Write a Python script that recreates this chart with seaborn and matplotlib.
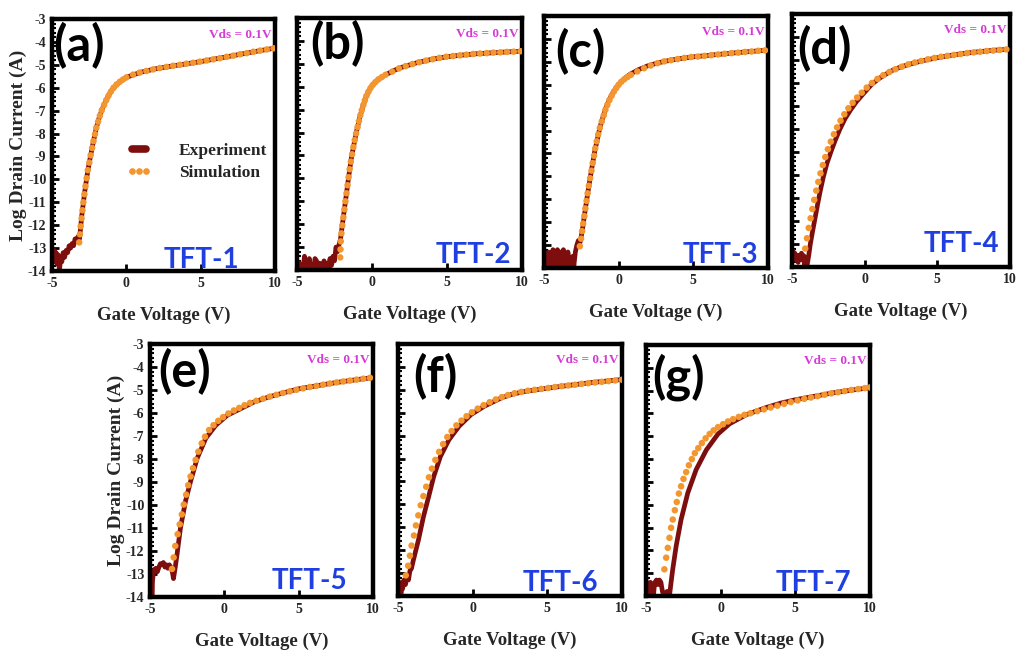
import matplotlib
matplotlib.use("Agg")
import matplotlib.pyplot as plt
import seaborn as sns
from matplotlib.lines import Line2D
from matplotlib.ticker import MultipleLocator

# ---------------- data ----------------
panel_tags = ["(a)", "(b)", "(c)", "(d)", "(e)", "(f)", "(g)"]
device_names = ["TFT-1", "TFT-2", "TFT-3", "TFT-4", "TFT-5", "TFT-6", "TFT-7"]
y_ticks = [-14, -13, -12, -11, -10, -9, -8, -7, -6, -5, -4, -3]
x_ticks = [-5, 0, 5, 10]

exp_a = [(-5.0, -13.0), (-4.93, -13.5), (-4.86, -13.1), (-4.79, -13.6), (-4.72, -13.2), (-4.65, -13.7),
         (-4.58, -13.3), (-4.5, -14.0), (-4.42, -13.4), (-4.34, -13.6), (-4.25, -13.2), (-4.15, -13.4),
         (-4.05, -13.1), (-3.95, -13.2), (-3.85, -12.9), (-3.75, -13.0), (-3.65, -12.8), (-3.55, -12.9),
         (-3.45, -12.6), (-3.35, -12.7), (-3.25, -12.5), (-3.15, -12.6), (-3.0, -11.6), (-2.8, -10.55),
         (-2.6, -9.65), (-2.4, -8.95), (-2.2, -8.3), (-2.0, -7.7), (-1.8, -7.25), (-1.6, -6.9), (-1.4, -6.6),
         (-1.2, -6.35), (-1.0, -6.12), (-0.7, -5.9), (-0.4, -5.72), (0.0, -5.55), (0.5, -5.43), (1.0, -5.32),
         (2.0, -5.17), (3.0, -5.06), (4.0, -4.96), (5.0, -4.86), (6.0, -4.74), (7.0, -4.62), (8.0, -4.5),
         (9.0, -4.38), (10.0, -4.27)]
sim_a = [(-3.17, -12.75), (-3.12, -12.4), (-3.07, -12.05), (-3.01, -11.7), (-2.95, -11.35), (-2.89, -11.0),
         (-2.82, -10.65), (-2.75, -10.3), (-2.67, -9.95), (-2.59, -9.6), (-2.49, -9.27), (-2.4, -8.95),
         (-2.3, -8.63), (-2.21, -8.33), (-2.11, -8.03), (-2.02, -7.75), (-1.9, -7.48), (-1.78, -7.22),
         (-1.65, -6.98), (-1.5, -6.75), (-1.35, -6.54), (-1.2, -6.35), (-1.04, -6.17), (-0.86, -6.0),
         (-0.66, -5.86), (-0.44, -5.74), (-0.22, -5.64), (0.0, -5.55), (0.45, -5.43), (0.9, -5.34),
         (1.35, -5.27), (1.8, -5.2), (2.25, -5.14), (2.7, -5.09), (3.15, -5.04), (3.6, -5.0), (4.05, -4.95),
         (4.5, -4.91), (4.95, -4.86), (5.4, -4.81), (5.85, -4.76), (6.3, -4.71), (6.75, -4.65), (7.2, -4.6),
         (7.65, -4.54), (8.1, -4.49), (8.55, -4.43), (9.0, -4.38), (9.45, -4.33), (9.9, -4.28)]

exp_b = [(-5.0, -13.6), (-4.92, -14.0), (-4.84, -13.7), (-4.76, -14.0), (-4.68, -13.9), (-4.6, -14.0),
         (-4.5, -13.4), (-4.42, -14.0), (-4.34, -13.9), (-4.26, -14.0), (-4.18, -13.5), (-4.1, -14.0),
         (-4.0, -13.9), (-3.9, -14.0), (-3.8, -13.5), (-3.7, -13.6), (-3.6, -14.0), (-3.5, -13.7),
         (-3.4, -13.9), (-3.3, -14.0), (-3.2, -13.6), (-3.1, -14.0), (-3.0, -13.7), (-2.9, -14.0),
         (-2.8, -13.5), (-2.7, -13.8), (-2.6, -13.4), (-2.5, -13.6), (-2.4, -13.0), (-2.3, -13.2),
         (-2.2, -12.9), (-2.1, -12.65), (-1.95, -11.9), (-1.8, -11.15), (-1.6, -10.15), (-1.4, -9.2),
         (-1.2, -8.5), (-1.0, -7.85), (-0.8, -7.3), (-0.6, -6.85), (-0.4, -6.45), (-0.2, -6.17), (0.0, -5.95),
         (0.3, -5.75), (0.6, -5.6), (1.0, -5.45), (1.5, -5.28), (2.0, -5.15), (3.0, -4.95), (4.0, -4.8),
         (5.0, -4.69), (6.0, -4.62), (7.0, -4.56), (8.0, -4.52), (9.0, -4.48), (10.0, -4.45)]
sim_b = [(-2.12, -13.45), (-2.1, -13.1), (-2.08, -12.75), (-2.04, -12.4), (-1.98, -12.05), (-1.91, -11.7),
         (-1.84, -11.35), (-1.77, -11.0), (-1.7, -10.65), (-1.63, -10.3), (-1.56, -9.95), (-1.49, -9.6),
         (-1.41, -9.27), (-1.33, -8.95), (-1.24, -8.63), (-1.15, -8.33), (-1.06, -8.04), (-0.96, -7.76),
         (-0.87, -7.5), (-0.78, -7.25), (-0.68, -7.02), (-0.58, -6.8), (-0.48, -6.6), (-0.37, -6.4),
         (-0.24, -6.22), (-0.1, -6.06), (0.05, -5.92), (0.22, -5.8), (0.42, -5.68), (0.65, -5.58),
         (0.9, -5.48), (1.35, -5.34), (1.8, -5.2), (2.25, -5.1), (2.7, -5.01), (3.15, -4.93), (3.6, -4.86),
         (4.05, -4.8), (4.5, -4.74), (4.95, -4.69), (5.4, -4.66), (5.85, -4.63), (6.3, -4.6), (6.75, -4.57),
         (7.2, -4.55), (7.65, -4.53), (8.1, -4.51), (8.55, -4.5), (9.0, -4.48), (9.45, -4.47), (9.9, -4.45)]

exp_c = [(-5.0, -13.3), (-4.95, -14.0), (-4.9, -13.5), (-4.8, -13.9), (-4.7, -13.3), (-4.6, -14.0),
         (-4.5, -13.6), (-4.4, -13.2), (-4.3, -14.0), (-4.2, -13.4), (-4.1, -13.2), (-4.0, -13.9),
         (-3.9, -13.3), (-3.8, -14.0), (-3.7, -13.2), (-3.6, -13.6), (-3.5, -14.0), (-3.4, -13.3),
         (-3.3, -13.9), (-3.2, -14.0), (-3.1, -13.5), (-3.0, -13.9), (-2.9, -13.3), (-2.8, -13.0),
         (-2.7, -12.8), (-2.6, -12.9), (-2.55, -12.8), (-2.4, -12.2), (-2.27, -11.6), (-2.1, -10.85),
         (-1.93, -10.16), (-1.75, -9.45), (-1.59, -8.86), (-1.4, -8.3), (-1.25, -7.85), (-1.0, -7.3),
         (-0.8, -6.9), (-0.55, -6.55), (-0.34, -6.3), (-0.1, -6.07), (0.11, -5.9), (0.5, -5.67), (0.8, -5.53),
         (1.3, -5.35), (1.93, -5.18), (2.5, -5.07), (3.07, -4.98), (4.0, -4.87), (5.05, -4.78), (6.3, -4.7),
         (7.6, -4.62), (8.8, -4.55), (10.0, -4.49)]
sim_c = [(-2.6, -13.05), (-2.52, -12.72), (-2.45, -12.39), (-2.38, -12.06), (-2.3, -11.73), (-2.23, -11.4),
         (-2.15, -11.07), (-2.08, -10.74), (-2.0, -10.41), (-1.91, -10.08), (-1.82, -9.75), (-1.74, -9.42),
         (-1.65, -9.1), (-1.57, -8.78), (-1.47, -8.47), (-1.37, -8.17), (-1.26, -7.88), (-1.13, -7.6),
         (-1.0, -7.34), (-0.89, -7.1), (-0.76, -6.88), (-0.62, -6.67), (-0.47, -6.48), (-0.32, -6.3),
         (-0.16, -6.14), (0.0, -6.0), (0.18, -5.87), (0.38, -5.76), (0.6, -5.66), (0.82, -5.57), (1.25, -5.42),
         (1.7, -5.28), (2.15, -5.16), (2.6, -5.06), (3.05, -4.98), (3.5, -4.93), (3.95, -4.88), (4.4, -4.83),
         (4.85, -4.79), (5.3, -4.77), (5.75, -4.74), (6.2, -4.71), (6.65, -4.68), (7.1, -4.65), (7.55, -4.62),
         (8.0, -4.6), (8.45, -4.57), (8.9, -4.55), (9.35, -4.52), (9.8, -4.5)]

exp_d = [(-5.0, -13.6), (-4.93, -13.3), (-4.86, -13.6), (-4.8, -13.4), (-4.72, -13.7), (-4.65, -13.5),
         (-4.58, -13.8), (-4.5, -13.5), (-4.42, -13.6), (-4.35, -13.4), (-4.28, -13.7), (-4.2, -13.5),
         (-4.12, -14.0), (-4.05, -13.6), (-3.98, -14.0), (-3.85, -13.5), (-3.74, -13.0), (-3.57, -12.4),
         (-3.4, -11.83), (-3.23, -11.25), (-3.06, -10.7), (-2.85, -10.1), (-2.6, -9.5), (-2.3, -8.95),
         (-2.0, -8.45), (-1.7, -8.0), (-1.35, -7.55), (-0.95, -7.15), (-0.55, -6.8), (0.0, -6.4), (0.5, -6.05),
         (1.0, -5.8), (1.5, -5.6), (2.0, -5.42), (2.5, -5.3), (3.0, -5.2), (4.0, -5.03), (5.0, -4.9),
         (6.0, -4.79), (7.0, -4.7), (8.0, -4.63), (9.0, -4.57), (10.0, -4.53)]
sim_d = [(-4.09, -13.2), (-3.97, -12.75), (-3.85, -12.3), (-3.72, -11.88), (-3.6, -11.48), (-3.47, -11.08),
         (-3.33, -10.68), (-3.19, -10.3), (-3.04, -9.93), (-2.88, -9.57), (-2.71, -9.22), (-2.53, -8.88),
         (-2.33, -8.55), (-2.12, -8.23), (-1.9, -7.93), (-1.66, -7.64), (-1.4, -7.36), (-1.12, -7.1),
         (-0.83, -6.86), (-0.52, -6.63), (-0.2, -6.42), (0.14, -6.2), (0.5, -6.0), (0.88, -5.82), (1.28, -5.66),
         (1.7, -5.52), (2.12, -5.4), (2.56, -5.29), (3.0, -5.19), (3.45, -5.11), (3.9, -5.04), (4.35, -4.97),
         (4.8, -4.91), (5.25, -4.86), (5.7, -4.82), (6.15, -4.78), (6.6, -4.74), (7.05, -4.7), (7.5, -4.67),
         (7.95, -4.64), (8.4, -4.61), (8.85, -4.59), (9.3, -4.56), (9.75, -4.54)]

exp_e = [(-5.0, -14.0), (-4.97, -13.0), (-4.94, -13.8), (-4.9, -13.2), (-4.87, -14.0), (-4.83, -13.3),
         (-4.8, -13.1), (-4.75, -12.9), (-4.7, -12.8), (-4.6, -12.75), (-4.5, -12.9), (-4.4, -12.7),
         (-4.3, -12.55), (-4.2, -12.6), (-4.1, -12.5), (-4.0, -12.7), (-3.9, -12.6), (-3.8, -12.75),
         (-3.7, -12.6), (-3.6, -12.7), (-3.5, -12.9), (-3.42, -13.2), (-3.3, -12.7), (-3.18, -12.14),
         (-2.95, -10.99), (-2.61, -9.83), (-2.27, -8.97), (-1.82, -7.96), (-1.25, -7.1), (-0.57, -6.53),
         (0.2, -6.1), (1.14, -5.8), (2.0, -5.52), (3.0, -5.3), (4.0, -5.12), (5.0, -4.95), (6.0, -4.84),
         (7.0, -4.73), (8.0, -4.63), (9.0, -4.54), (10.0, -4.46)]
sim_e = [(-3.52, -12.78), (-3.41, -12.28), (-3.3, -11.78), (-3.14, -11.27), (-3.0, -10.84), (-2.86, -10.41),
         (-2.73, -9.98), (-2.57, -9.55), (-2.43, -9.14), (-2.27, -8.76), (-2.11, -8.4), (-1.93, -8.04),
         (-1.75, -7.68), (-1.52, -7.32), (-1.3, -7.03), (-1.02, -6.74), (-0.73, -6.53), (-0.41, -6.34),
         (-0.09, -6.18), (0.27, -6.02), (0.64, -5.89), (1.0, -5.78), (1.36, -5.66), (1.73, -5.56), (2.15, -5.47),
         (2.6, -5.38), (3.05, -5.29), (3.5, -5.21), (3.95, -5.13), (4.4, -5.06), (4.85, -4.99), (5.3, -4.93),
         (5.75, -4.87), (6.2, -4.82), (6.65, -4.77), (7.1, -4.72), (7.55, -4.67), (8.0, -4.63), (8.45, -4.59),
         (8.9, -4.55), (9.35, -4.51), (9.8, -4.47)]

exp_f = [(-5.0, -14.0), (-4.95, -13.5), (-4.9, -14.0), (-4.85, -13.6), (-4.8, -13.9), (-4.75, -13.4),
         (-4.7, -13.7), (-4.6, -13.3), (-4.5, -13.5), (-4.4, -13.1), (-4.3, -13.3), (-4.2, -12.9),
         (-4.1, -12.8), (-3.98, -12.46), (-3.64, -11.58), (-3.3, -10.55), (-2.95, -9.67), (-2.61, -8.79),
         (-2.16, -7.91), (-1.59, -7.18), (-0.91, -6.59), (-0.11, -6.08), (0.8, -5.71), (1.93, -5.35),
         (2.61, -5.2), (3.5, -5.07), (5.0, -4.93), (6.5, -4.8), (8.0, -4.68), (10.0, -4.55)]
sim_f = [(-4.48, -13.1), (-4.32, -12.68), (-4.2, -12.24), (-4.09, -11.8), (-3.93, -11.36), (-3.8, -10.92),
         (-3.64, -10.48), (-3.48, -10.04), (-3.3, -9.64), (-3.11, -9.23), (-2.93, -8.82), (-2.73, -8.44),
         (-2.5, -8.06), (-2.25, -7.71), (-1.98, -7.37), (-1.7, -7.06), (-1.41, -6.8), (-1.09, -6.55),
         (-0.75, -6.34), (-0.41, -6.15), (-0.05, -5.98), (0.34, -5.82), (0.73, -5.67), (1.14, -5.54),
         (1.55, -5.42), (1.95, -5.32), (2.36, -5.23), (2.8, -5.15), (3.25, -5.09), (3.7, -5.04), (4.15, -5.0),
         (4.6, -4.96), (5.05, -4.92), (5.5, -4.88), (5.95, -4.84), (6.4, -4.81), (6.85, -4.78), (7.3, -4.74),
         (7.75, -4.71), (8.2, -4.68), (8.65, -4.65), (9.1, -4.62), (9.55, -4.59), (10.0, -4.56)]

exp_g = [(-5.0, -13.3), (-4.95, -13.6), (-4.9, -14.0), (-4.85, -13.8), (-4.8, -14.0), (-4.75, -13.7),
         (-4.7, -13.4), (-4.6, -13.7), (-4.5, -14.0), (-4.45, -13.6), (-4.4, -13.4), (-4.3, -13.3),
         (-4.2, -13.5), (-4.1, -13.3), (-4.0, -13.4), (-3.9, -13.8), (-3.8, -14.0), (-3.7, -14.0),
         (-3.6, -13.8), (-3.5, -14.0), (-3.43, -14.0), (-3.32, -13.4), (-3.21, -12.83), (-2.98, -11.81),
         (-2.65, -10.65), (-2.2, -9.48), (-1.64, -8.46), (-0.96, -7.6), (-0.18, -6.9), (0.6, -6.45),
         (1.73, -6.05), (3.0, -5.75), (4.0, -5.55), (5.0, -5.4), (6.25, -5.25), (7.5, -5.1), (8.75, -4.98),
         (10.0, -4.87)]
sim_g = [(-3.77, -12.83), (-3.65, -12.32), (-3.54, -11.89), (-3.43, -11.45), (-3.32, -11.01), (-3.21, -10.65),
         (-3.07, -10.24), (-2.94, -9.88), (-2.8, -9.51), (-2.65, -9.19), (-2.49, -8.87), (-2.31, -8.57),
         (-2.13, -8.27), (-1.93, -8.0), (-1.73, -7.74), (-1.5, -7.52), (-1.26, -7.3), (-1.01, -7.09),
         (-0.74, -6.9), (-0.47, -6.74), (-0.18, -6.6), (0.16, -6.47), (0.49, -6.35), (0.83, -6.25),
         (1.21, -6.15), (1.59, -6.06), (2.0, -5.99), (2.45, -5.9), (2.9, -5.82), (3.35, -5.74), (3.8, -5.66),
         (4.25, -5.58), (4.7, -5.5), (5.15, -5.43), (5.6, -5.36), (6.05, -5.3), (6.5, -5.24), (6.95, -5.18),
         (7.4, -5.12), (7.85, -5.07), (8.3, -5.02), (8.75, -4.97), (9.2, -4.93), (9.65, -4.89), (10.0, -4.86)]

experiments = [exp_a, exp_b, exp_c, exp_d, exp_e, exp_f, exp_g]
simulations = [sim_a, sim_b, sim_c, sim_d, sim_e, sim_f, sim_g]

# ---------------- layout / style ----------------
W, H = 1016, 652
# axes boxes in pixels: left, right, top, bottom
boxes = [(52, 275, 19, 271), (297, 522, 18, 270), (544, 768, 16, 268), (792, 1010, 14, 267),
         (150, 373, 344, 597), (398, 622, 344, 596), (646, 870, 345, 596)]
tag_offsets = [(1, 3), (13, 2), (11, 12), (5, 11), (8, 4), (15, 9), (6, 8)]     # px from left/top
dev_pos = [(0.67, 0.012), (0.784, 0.028), (0.786, 0.02), (0.775, 0.06),
           (0.717, 0.032), (0.725, 0.02), (0.749, 0.02)]
ylabel_on = [True, False, False, False, True, False, False]

EXP_COLOR = "#7E0E0E"
SIM_COLOR = "#F4962F"
BLUE = "#1F3FE0"
MAGENTA = "#D63AD6"
SERIF = "Liberation Serif"
SANS = "Lato"

sns.set_theme(style="white")
plt.rcParams["font.family"] = [SERIF, "DejaVu Serif"]
plt.rcParams["font.weight"] = "bold"
plt.rcParams["axes.unicode_minus"] = False

fig = plt.figure(figsize=(W / 100, H / 100), dpi=100)
fig.patch.set_facecolor("white")

for i in range(7):
    l, r, t, b = boxes[i]
    ax = fig.add_axes([l / W, 1 - b / H, (r - l) / W, (b - t) / H])
    ex = [p[0] for p in experiments[i]]
    ey = [p[1] for p in experiments[i]]
    sx = [p[0] for p in simulations[i]]
    sy = [p[1] for p in simulations[i]]
    sns.lineplot(x=ex, y=ey, ax=ax, color=EXP_COLOR, lw=3.4, sort=False, estimator=None, zorder=2)
    sns.scatterplot(x=sx, y=sy, ax=ax, color=SIM_COLOR, s=22, edgecolor="none", linewidth=0, zorder=3)

    ax.set_xlim(-5, 10)
    ax.set_ylim(-14, -3)
    ax.set_xticks(x_ticks)
    ax.set_xticklabels([str(v) for v in x_ticks])
    ax.set_yticks(y_ticks)
    ax.yaxis.set_minor_locator(MultipleLocator(0.2))
    if ylabel_on[i]:
        ax.set_yticklabels([str(v) for v in y_ticks])
        ax.set_ylabel("Log Drain Current (A)", fontsize=14, fontweight="bold", labelpad=1)
    else:
        ax.set_yticklabels([])
        ax.set_ylabel("")
    ax.set_xlabel("Gate Voltage (V)", fontsize=13.5, fontweight="bold", labelpad=12)

    ax.tick_params(axis="both", which="major", direction="in", length=5, width=2,
                   bottom=True, left=True, top=False, right=False, labelsize=10, color="black")
    ax.tick_params(axis="y", which="minor", direction="in", length=3, width=1.5, left=True, color="black")
    ax.tick_params(axis="x", which="major", pad=4)
    ax.tick_params(axis="y", which="major", pad=4)
    for lab in ax.get_xticklabels() + ax.get_yticklabels():
        lab.set_fontweight("bold")
    for s in ax.spines.values():
        s.set_visible(True)
        s.set_linewidth(3.2)
        s.set_color("black")
    ax.grid(False)

    bw, bh = r - l, b - t
    dx, dy = tag_offsets[i]
    ax.text(dx / bw, 1 - dy / bh, panel_tags[i], transform=ax.transAxes, ha="left", va="top",
            fontsize=35, fontfamily=SANS, fontweight="bold", color="black")
    ax.text(dev_pos[i][0], dev_pos[i][1], device_names[i], transform=ax.transAxes, ha="center",
            va="baseline", fontsize=20, fontfamily=SANS, fontweight="bold", color=BLUE)
    ax.text(0.985, 0.935, "Vds = 0.1V", transform=ax.transAxes, ha="right", va="center",
            fontsize=9.5, fontweight="bold", color=MAGENTA)

    if i == 0:
        h_exp = Line2D([], [], color=EXP_COLOR, lw=5.5)
        h_sim = Line2D([], [], color=SIM_COLOR, marker="o", ls="none", markersize=4.8, markeredgewidth=0)
        ax.legend([h_exp, h_sim], ["Experiment", "Simulation"], loc="center left",
                  bbox_to_anchor=(0.335, 0.433), frameon=False, numpoints=3, handlelength=1.4,
                  handletextpad=1.6, labelspacing=0.35, borderpad=0, borderaxespad=0,
                  prop={"family": SERIF, "weight": "bold", "size": 12.5})

fig.savefig("out.png", dpi=100, facecolor="white")
